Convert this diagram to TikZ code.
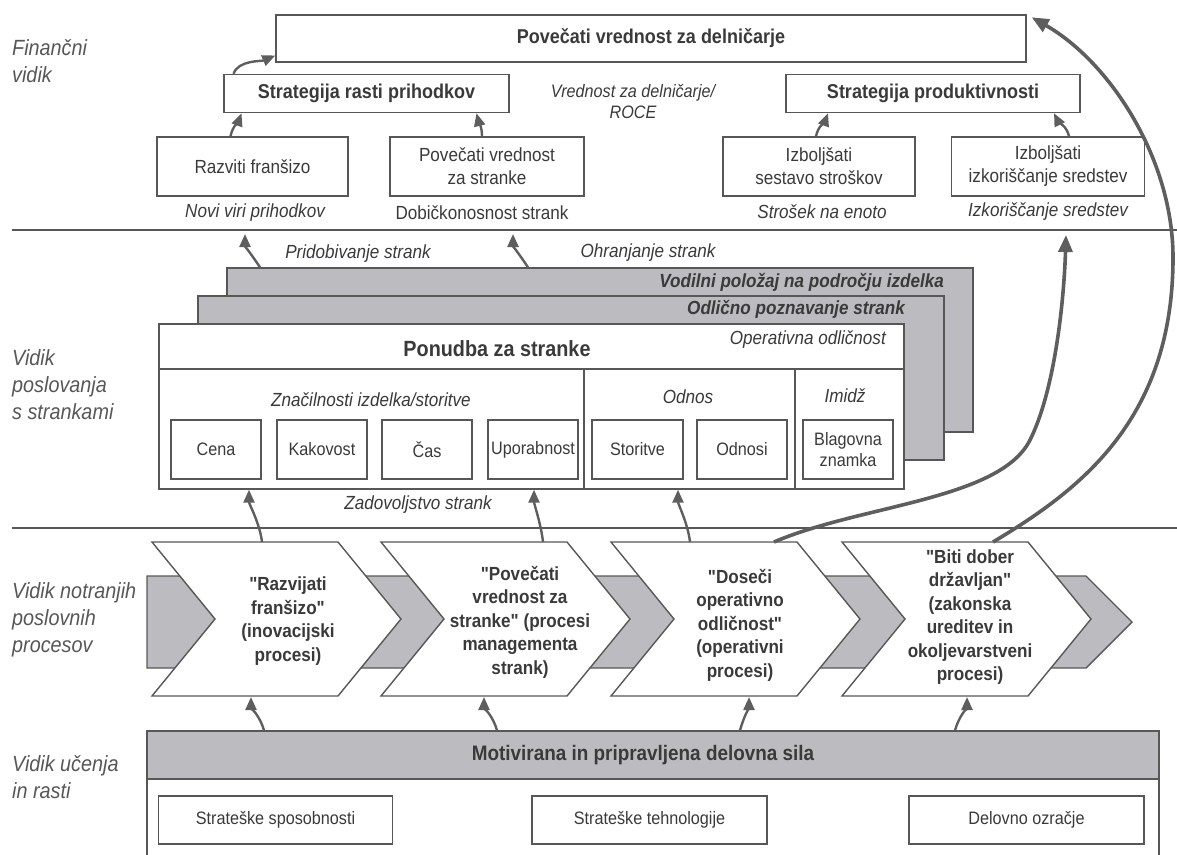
\documentclass[tikz,border=0pt]{standalone}
\usepackage{fontspec}
\setmainfont{Liberation Sans}[FakeStretch=0.9, Ligatures=TeXOff]
\usetikzlibrary{arrows.meta}
\definecolor{ink}{HTML}{3A3A3A}
\definecolor{edge}{HTML}{575757}
\definecolor{shade}{HTML}{BCBCC0}
\definecolor{arrowc}{HTML}{5E5E5E}
\newcommand\fsz[2]{\fontsize{#1}{#2}\selectfont}
\begin{document}
\begin{tikzpicture}[x=1pt,y=-1pt,
  box/.style={draw=edge, line width=1.4pt, fill=white, inner sep=0pt,
    align=center, text=ink, font={\fsz{19}{23}}},
  headbox/.style={box, font={\bfseries\fsz{20}{24}}},
  lbl/.style={text=ink, inner sep=0pt, align=center, font={\fsz{19}{23}}},
  ilbl/.style={lbl, font={\itshape\fsz{19}{23}}},
  bilbl/.style={lbl, font={\bfseries\itshape\fsz{19}{23}}},
  seclbl/.style={text=ink!85, inner sep=0pt, align=left, anchor=west,
    font={\itshape\fsz{22}{27}}},
  chevtxt/.style={text=ink, inner sep=0pt, align=center,
    font={\bfseries\fsz{19}{23.5}}},
  panel/.style={draw=edge, line width=1.4pt, inner sep=0pt},
  chev/.style={draw=edge, line width=1.4pt, fill=white, line join=miter},
  sepline/.style={draw=edge, line width=1.5pt},
  arr/.style={draw=arrowc, line width=2.4pt,
    -{Triangle[length=13pt,width=11pt]}},
  bigarr/.style={draw=arrowc, line width=3.6pt,
    -{Triangle[length=17pt,width=14pt]}}
]
\useasboundingbox (0,0) rectangle (1177,854);

% perspective separators
\draw[sepline] (12,230) -- (1177,230);
\draw[sepline] (12,528) -- (1177,528);

% ---------------- financial perspective ----------------
\node[seclbl] (lfin) at (12,61) {Finančni\\vidik};
\node[headbox, minimum width=750pt, minimum height=47pt] (shv) at (651,38.5)
  {Povečati vrednost za delničarje};
\node[headbox, minimum width=285pt, minimum height=38pt] (srast) at (366.5,93.5)
  {Strategija rasti prihodkov};
\node[headbox, minimum width=294pt, minimum height=38pt] (sprod) at (933,93.5)
  {Strategija produktivnosti};
\node[lbl, font={\itshape\fsz{18}{21}}] (roce) at (633,102)
  {Vrednost za delničarje/\\ROCE};
\node[box, minimum width=191pt, minimum height=59pt] (razv) at (252.5,166.5)
  {Razviti franšizo};
\node[box, minimum width=194pt, minimum height=59pt] (povst) at (487,166.5)
  {Povečati vrednost\\za stranke};
\node[box, minimum width=192pt, minimum height=59pt] (izbst) at (819,166.5)
  {Izboljšati\\sestavo stroškov};
\node[box, minimum width=193pt, minimum height=59pt] (izbiz) at (1048,166.5)
  {Izboljšati\\izkoriščanje sredstev};
\node[ilbl] (novi) at (255,213) {Novi viri prihodkov};
\node[lbl] (dobic) at (482,213) {Dobičkonosnost strank};
\node[ilbl] (stros) at (822,212) {Strošek na enoto};
\node[ilbl] (izkor) at (1048,212) {Izkoriščanje sredstev};

\draw[arr] ([xshift=-22pt]razv.north) .. controls +(2,-10) and +(-3,8) ..
  ([xshift=-125pt]srast.south);
\draw[arr] ([xshift=-5pt]povst.north) .. controls +(0,-10) and +(2,8) ..
  ([xshift=110pt]srast.south);
\draw[arr] ([xshift=-133pt]srast.north) .. controls +(5,-14) and +(-14,6) ..
  ([yshift=-17pt]shv.west);
\draw[arr] ([xshift=-3pt]izbst.north) .. controls +(2,-10) and +(-3,8) ..
  ([xshift=-105pt]sprod.south);
\draw[arr] ([xshift=21pt]izbiz.north) .. controls +(-2,-10) and +(4,8) ..
  ([xshift=121pt]sprod.south);

% ---------------- customer perspective ----------------
\node[seclbl] (lcus) at (12,385) {Vidik\\poslovanja\\s strankami};
\node[ilbl] (prid) at (358,254) {Pridobivanje strank};
\node[ilbl] (ohr) at (648,253) {Ohranjanje strank};

\node[panel, fill=shade, minimum width=746pt, minimum height=164pt] (back) at (600,350) {};
\node[bilbl, anchor=east] (vod) at (944,282) {Vodilni položaj na področju izdelka};
\node[panel, fill=shade, minimum width=746pt, minimum height=164pt] (mid) at (571,378) {};
\node[bilbl, anchor=east] (odl) at (905,309) {Odlično poznavanje strank};
\node[panel, fill=white, minimum width=745pt, minimum height=165pt] (front) at (531.5,406.5) {};
\draw[panel] (159,369) -- (904,369);
\draw[panel] (584,369) -- (584,489);
\draw[panel] (795,369) -- (795,489);
\node[lbl, font={\bfseries\fsz{22}{26}}] (ponud) at (497,349) {Ponudba za stranke};
\node[ilbl, anchor=east] (oper) at (886,340) {Operativna odličnost};
\node[ilbl] (znac) at (371,400) {Značilnosti izdelka/storitve};
\node[ilbl] (odnos) at (688,397) {Odnos};
\node[ilbl] (imidz) at (845,396) {Imidž};
\node[box, font={\fsz{18}{21}}, minimum width=90pt, minimum height=59pt] (cena) at (216,449.5) {Cena};
\node[box, font={\fsz{18}{21}}, minimum width=90pt, minimum height=59pt] (kak) at (322,449.5) {Kakovost};
\node[box, font={\fsz{18}{21}}, minimum width=90pt, minimum height=59pt] (cas) at (427,449.5) {Čas};
\node[box, font={\fsz{18}{21}}, minimum width=90pt, minimum height=59pt] (upor) at (533,449.5) {Uporabnost};
\node[box, font={\fsz{18}{21}}, minimum width=91pt, minimum height=59pt] (stor) at (637.5,449.5) {Storitve};
\node[box, font={\fsz{18}{21}}, minimum width=90pt, minimum height=59pt] (odnosi) at (742,449.5) {Odnosi};
\node[box, font={\fsz{18}{21}}, minimum width=90pt, minimum height=59pt] (blag) at (848,449.5) {Blagovna\\znamka};
\node[ilbl] (zadov) at (418,505) {Zadovoljstvo strank};

\coordinate (pridt) at (245,234);
\coordinate (ohrt) at (513,234);
\draw[arr] ([xshift=-340pt]back.north) .. controls +(-8,-12) and +(0,12) .. (pridt);
\draw[arr] ([xshift=-72pt]back.north) .. controls +(-8,-12) and +(0,12) .. (ohrt);

% ---------------- internal process perspective ----------------
\node[seclbl] (lint) at (12,620) {Vidik notranjih\\poslovnih\\procesov};
\draw[draw=edge, line width=1.4pt, fill=shade]
  (147,576) -- (1086,576) -- (1132,622) -- (1086,668) -- (147,668) -- cycle;
\foreach \l in {152,381,611,842}{
  \draw[chev] (\l,542) -- ++(186,0) -- ++(63,77) -- ++(-63,77) -- ++(-186,0)
    -- ++(63,-77) -- cycle;
}
\node[chevtxt] (ch1) at (288,621) {"Razvijati\\franšizo"\\(inovacijski\\procesi)};
\node[chevtxt] (ch2) at (520,622) {"Povečati\\vrednost za\\stranke" (procesi\\managementa\\strank)};
\node[chevtxt] (ch3) at (740,625) {"Doseči\\operativno\\odličnost"\\(operativni\\procesi)};
\node[chevtxt] (ch4) at (970,617) {"Biti dober\\državljan"\\(zakonska\\ureditev in\\okoljevarstveni\\procesi)};

\coordinate (c1t) at (262,542);
\coordinate (c2t) at (543,542);
\coordinate (c3t) at (690,542);
\coordinate (c3a) at (774,542);
\coordinate (c4a) at (993,542);
\coordinate (c1b) at (251,697);
\coordinate (c2b) at (484,697);
\coordinate (c3b) at (749,697);
\coordinate (c4b) at (967,697);

\draw[arr] (c1t) .. controls +(-2,-18) and +(0,14) .. ([xshift=-282.5pt]front.south);
\draw[arr] (c2t) .. controls +(-2,-18) and +(0,14) .. ([xshift=2.5pt]front.south);
\draw[arr] (c3t) .. controls +(-2,-18) and +(0,14) .. ([xshift=146.5pt]front.south);

% long links to the financial perspective
\coordinate (izt) at (1066,235);
\coordinate (bendA) at (1030,440);
\draw[bigarr] (c3a) .. controls (860,505) and (1000,500) .. (bendA)
  .. controls (1055,390) and (1064,300) .. (izt);
\coordinate (bendB) at (1173,260);
\draw[bigarr] (c4a) .. controls (1080,490) and (1172,420) .. (bendB)
  .. controls (1174,160) and (1110,62) .. ([xshift=5pt,yshift=-3pt]shv.north east);

% ---------------- learning and growth perspective ----------------
\node[seclbl] (llrn) at (12,777) {Vidik učenja\\in rasti};
\node[panel, fill=white, minimum width=1012pt, minimum height=100pt] (base) at (653,829) {};
\node[panel, fill=shade, minimum width=1012pt, minimum height=48pt,
  text=ink, font={\bfseries\fsz{21}{25}}] (mot) at (653,755)
  {\hspace*{-20pt}Motivirana in pripravljena delovna sila};
\node[box, font={\fsz{18}{21}}, minimum width=234pt, minimum height=48pt] (sspo) at (275.5,820) {Strateške sposobnosti};
\node[box, font={\fsz{18}{21}}, minimum width=235pt, minimum height=48pt] (steh) at (649.5,820) {Strateške tehnologije};
\node[box, font={\fsz{18}{21}}, minimum width=235pt, minimum height=48pt] (sozr) at (1026.5,820) {Delovno ozračje};

\draw[arr] ([xshift=-389pt]mot.north) .. controls +(-4,-14) and +(0,10) .. (c1b);
\draw[arr] ([xshift=-156pt]mot.north) .. controls +(-4,-14) and +(0,10) .. (c2b);
\draw[arr] ([xshift=87pt]mot.north) .. controls +(4,-14) and +(0,10) .. (c3b);
\draw[arr] ([xshift=302pt]mot.north) .. controls +(4,-14) and +(0,10) .. (c4b);
\end{tikzpicture}
\end{document}
